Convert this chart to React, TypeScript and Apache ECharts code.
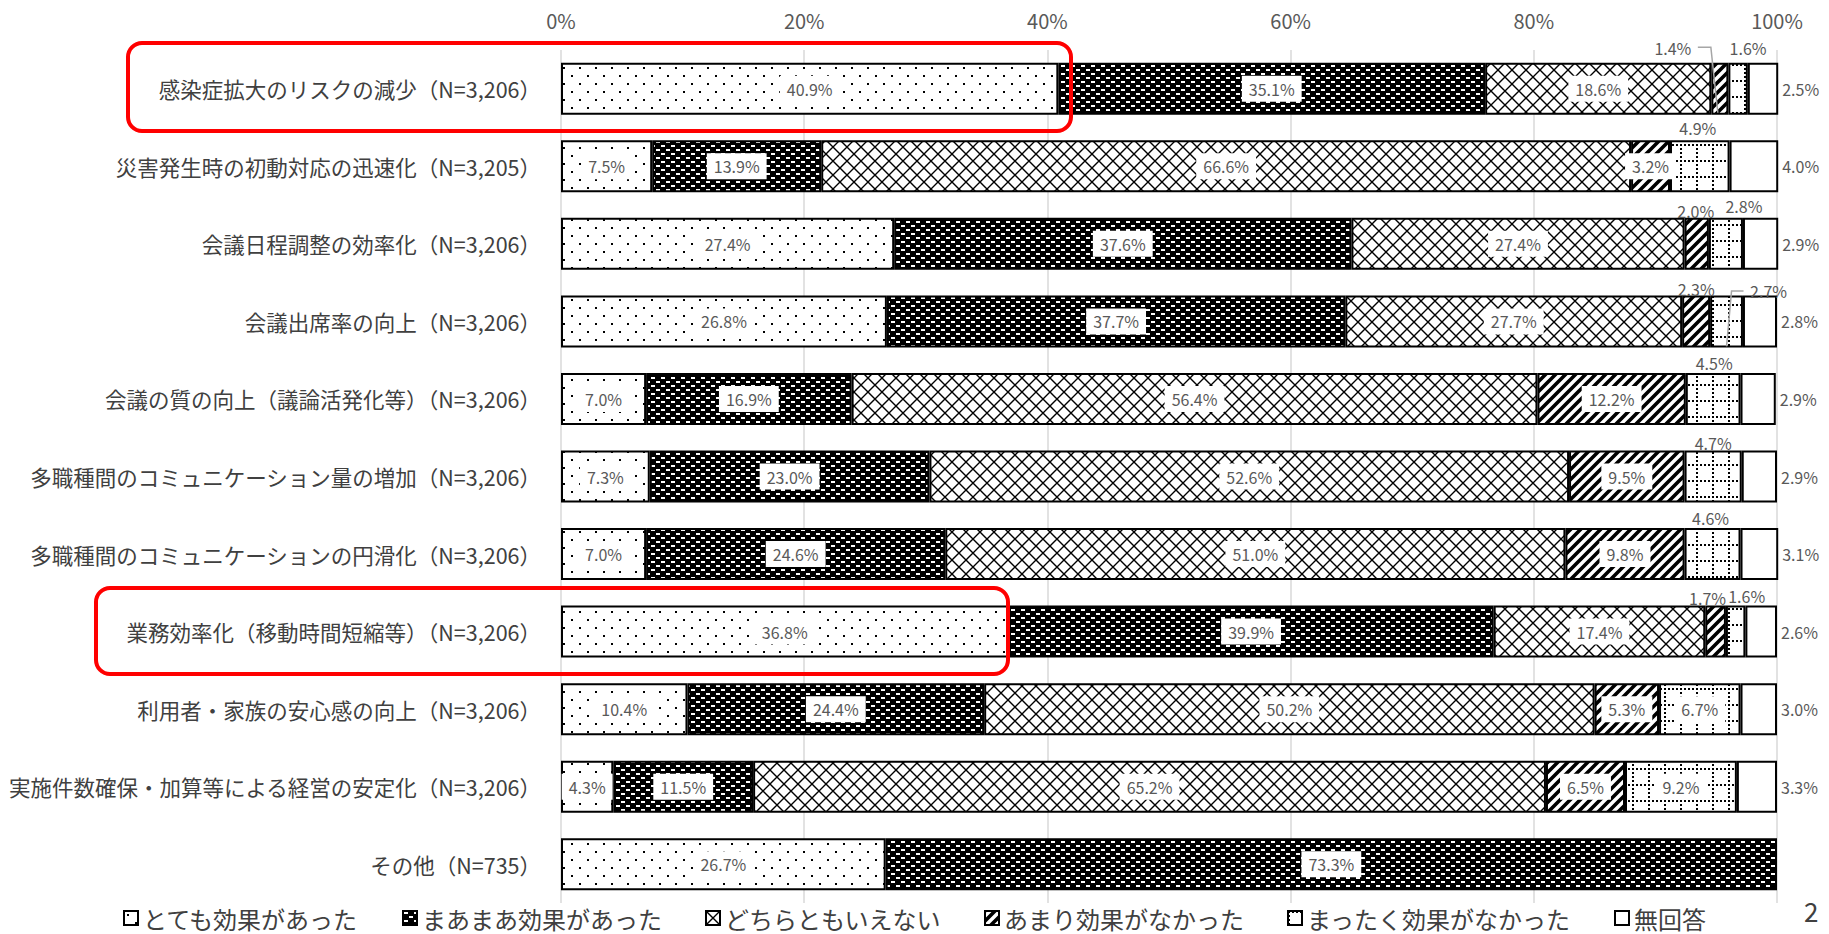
import React, { useEffect, useRef } from 'react';
import * as echarts from 'echarts';

const categories = [
  '感染症拡大のリスクの減少（N=3,206）',
  '災害発生時の初動対応の迅速化（N=3,205）',
  '会議日程調整の効率化（N=3,206）',
  '会議出席率の向上（N=3,206）',
  '会議の質の向上（議論活発化等）（N=3,206）',
  '多職種間のコミュニケーション量の増加（N=3,206）',
  '多職種間のコミュニケーションの円滑化（N=3,206）',
  '業務効率化（移動時間短縮等）（N=3,206）',
  '利用者・家族の安心感の向上（N=3,206）',
  '実施件数確保・加算等による経営の安定化（N=3,206）',
  'その他（N=735）',
];

const seriesNames = [
  'とても効果があった',
  'まあまあ効果があった',
  'どちらともいえない',
  'あまり効果がなかった',
  'まったく効果がなかった',
  '無回答',
];

const veryEffective = [40.9, 7.5, 27.4, 26.8, 7.0, 7.3, 7.0, 36.8, 10.4, 4.3, 26.7];
const fairlyEffective = [35.1, 13.9, 37.6, 37.7, 16.9, 23.0, 24.6, 39.9, 24.4, 11.5, 73.3];
const neutral = [18.6, 66.6, 27.4, 27.7, 56.4, 52.6, 51.0, 17.4, 50.2, 65.2, null];
const notVery = [1.4, 3.2, 2.0, 2.3, 12.2, 9.5, 9.8, 1.7, 5.3, 6.5, null];
const notAtAll = [1.6, 4.9, 2.8, 2.7, 4.5, 4.7, 4.6, 1.6, 6.7, 9.2, null];
const noAnswer = [2.5, 4.0, 2.9, 2.8, 2.9, 2.9, 3.1, 2.6, 3.0, 3.3, null];

const seriesValues: (number | null)[][] = [veryEffective, fairlyEffective, neutral, notVery, notAtAll, noAnswer];

const xTickStep = 20;

// label placement overrides (series-row): offsets for labels placed above the bar
const topLabelOffsets: Record<string, [number, number]> = {
  '3-0': [-47, -6.5],
  '4-0': [10, -6.5],
  '4-1': [-2, -4.5],
  '3-2': [-1, 1.5],
  '4-2': [18, -3.5],
  '3-3': [0, 1.5],
  '4-3': [42, 3.5],
  '4-4': [1, -1.5],
  '4-5': [0, 0.5],
  '4-6': [-2, -2.5],
  '3-7': [-8, 0.5],
  '4-7': [11, -1.5],
};

const FONT = "'Noto Sans CJK JP', 'Noto Sans', sans-serif";
const LABEL_COLOR = '#595959';
const BAR_W = 52;

function makeTile(w: number, h: number, draw: (ctx: CanvasRenderingContext2D) => void) {
  const c = document.createElement('canvas');
  c.width = w;
  c.height = h;
  const ctx = c.getContext('2d') as CanvasRenderingContext2D;
  draw(ctx);
  return { image: c.toDataURL(), repeat: 'repeat', imageWidth: w, imageHeight: h } as any;
}

function makePatterns() {
  const dots = makeTile(16, 16, (ctx) => {
    ctx.fillStyle = '#fff';
    ctx.fillRect(0, 0, 16, 16);
    ctx.fillStyle = '#000';
    ctx.fillRect(3, 3, 2, 2);
    ctx.fillRect(11, 11, 2, 2);
  });
  const dashes = makeTile(10, 8, (ctx) => {
    ctx.fillStyle = '#000';
    ctx.fillRect(0, 0, 10, 8);
    ctx.fillStyle = '#fff';
    ctx.fillRect(1, 1, 4, 2);
    ctx.fillRect(6, 5, 4, 2);
  });
  const diamond = makeTile(14, 14, (ctx) => {
    ctx.fillStyle = '#fff';
    ctx.fillRect(0, 0, 14, 14);
    ctx.strokeStyle = '#000';
    ctx.lineWidth = 1.4;
    ctx.beginPath();
    ctx.moveTo(0, 0);
    ctx.lineTo(14, 14);
    ctx.moveTo(14, 0);
    ctx.lineTo(0, 14);
    ctx.stroke();
  });
  const stripes = makeTile(10, 10, (ctx) => {
    ctx.fillStyle = '#fff';
    ctx.fillRect(0, 0, 10, 10);
    ctx.strokeStyle = '#000';
    ctx.lineWidth = 3.6;
    ctx.beginPath();
    ctx.moveTo(-5, 5);
    ctx.lineTo(5, -5);
    ctx.moveTo(0, 10);
    ctx.lineTo(10, 0);
    ctx.moveTo(5, 15);
    ctx.lineTo(15, 5);
    ctx.stroke();
  });
  const grid = makeTile(16, 16, (ctx) => {
    ctx.fillStyle = '#fff';
    ctx.fillRect(0, 0, 16, 16);
    ctx.fillStyle = '#000';
    for (let i = 0; i < 16; i += 4) {
      ctx.fillRect(i, 0, 2, 2);
      ctx.fillRect(0, i, 2, 2);
    }
  });
  return [dots, dashes, diamond, stripes, grid, '#ffffff'];
}

export default function App() {
  const ref = useRef<HTMLDivElement>(null);

  useEffect(() => {
    if (!ref.current) return;
    const chart = echarts.init(ref.current, undefined, { renderer: 'svg' });
    const patterns = makePatterns();

    const series = seriesValues.map((vals, si) => ({
      name: seriesNames[si],
      type: 'bar',
      stack: 'total',
      barWidth: BAR_W,
      clip: false,
      itemStyle: { color: patterns[si], borderColor: '#000', borderWidth: 2 },
      emphasis: { disabled: true },
      label: {
        show: true,
        position: si === 5 ? 'right' : 'inside',
        distance: si === 5 ? 4 : 5,
        color: LABEL_COLOR,
        fontSize: 16,
        fontFamily: FONT,
        backgroundColor: si === 5 ? 'transparent' : '#fff',
        padding: si === 5 ? 0 : [5, 7],
        formatter: (p: any) => (p.value == null ? '' : Number(p.value).toFixed(1) + '%'),
      },
      data: vals.map((v, r) => {
        const off = topLabelOffsets[`${si}-${r}`];
        if (v == null) return { value: null };
        if (off) {
          return {
            value: v,
            label: { position: 'top', distance: 0, offset: off, backgroundColor: 'transparent', padding: 0 },
          };
        }
        return { value: v };
      }),
    }));

    const option: any = {
      animation: false,
      backgroundColor: '#fff',
      textStyle: { fontFamily: FONT },
      grid: { left: 561, right: 52, top: 50, bottom: 31, containLabel: false },
      xAxis: {
        type: 'value',
        position: 'top',
        min: 0,
        max: 100,
        interval: xTickStep,
        axisLine: { show: false },
        axisTick: { show: false },
        axisLabel: { formatter: '{value}%', color: LABEL_COLOR, fontSize: 20, fontFamily: FONT, margin: 20 },
        splitLine: { show: true, lineStyle: { color: '#D9D9D9', width: 1.5 } },
      },
      yAxis: {
        type: 'category',
        inverse: true,
        data: categories,
        axisLine: { show: false },
        axisTick: { show: false },
        axisLabel: { color: '#404040', fontSize: 21.5, fontFamily: FONT, margin: 20 },
      },
      legend: {
        data: seriesNames,
        top: 901,
        left: 'center',
        icon: 'rect',
        itemWidth: 14,
        itemHeight: 14,
        itemGap: 43,
        selectedMode: false,
        textStyle: { fontSize: 24, color: '#404040', fontFamily: FONT },
      },
      series,
    };

    chart.setOption(option);

    // leader lines for relocated labels, derived from the axes
    const cum = (si: number, r: number) => {
      let s = 0;
      for (let k = 0; k < si; k++) s += seriesValues[k][r] || 0;
      return s;
    };
    const leader = (si: number, r: number, side: 'left' | 'right') => {
      const v = seriesValues[si][r] || 0;
      const c = cum(si, r) + v / 2;
      const [segX, rowY] = chart.convertToPixel({ gridIndex: 0 }, [c, r]) as number[];
      const off = topLabelOffsets[`${si}-${r}`];
      const barTop = rowY - BAR_W / 2;
      const barBottom = rowY + BAR_W / 2;
      const lx = segX + off[0];
      const ly = barTop - 8 + off[1];
      if (side === 'left') {
        return [
          [lx + 25, ly - 1],
          [segX - 9, ly - 1],
          [segX - 2, barBottom - 2],
        ];
      }
      return [
        [lx - 25, ly],
        [segX + 5, ly],
        [segX, barBottom - 1],
      ];
    };

    chart.setOption({
      graphic: [
        {
          type: 'polyline',
          shape: { points: leader(3, 0, 'left') },
          style: { stroke: '#A6A6A6', lineWidth: 1.5, fill: null },
          z: 100,
        },
        {
          type: 'polyline',
          shape: { points: leader(4, 3, 'right') },
          style: { stroke: '#A6A6A6', lineWidth: 1.5, fill: null },
          z: 100,
        },
        {
          type: 'rect',
          shape: { x: 128, y: 43, width: 943, height: 88, r: 14 },
          style: { fill: null, stroke: '#FF0000', lineWidth: 4 },
          z: 100,
        },
        {
          type: 'rect',
          shape: { x: 96, y: 588, width: 912, height: 86, r: 14 },
          style: { fill: null, stroke: '#FF0000', lineWidth: 4 },
          z: 100,
        },
        {
          type: 'text',
          x: 1804,
          y: 897,
          style: { text: '2', fontSize: 26, fill: '#404040', fontFamily: FONT },
          z: 100,
        },
      ],
    });

    return () => chart.dispose();
  }, []);

  return (
    <div
      ref={ref}
      style={{ position: 'absolute', left: 0, top: 0, width: 1829, height: 934, background: '#fff' }}
    />
  );
}
